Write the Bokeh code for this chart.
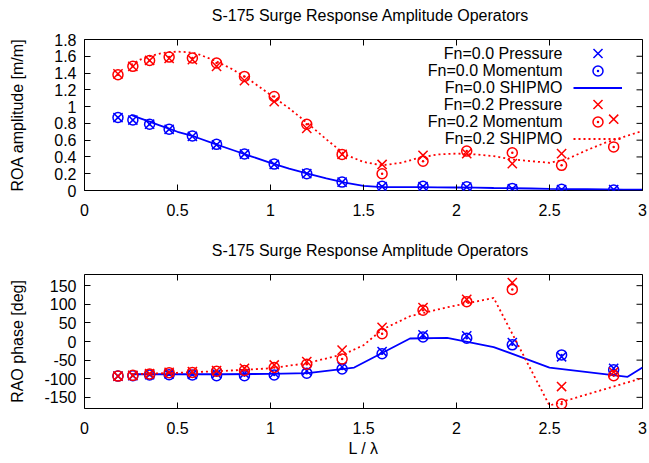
import math
from bokeh.plotting import figure
from bokeh.models import FixedTicker, Legend, LegendItem, Label, Range1d
from bokeh.layouts import column
from bokeh.embed import file_html
from bokeh.resources import INLINE

# ---------------- data ----------------
title_text = "S-175 Surge Response Amplitude Operators"
legend_labels = ["Fn=0.0 Pressure", "Fn=0.0 Momentum", "Fn=0.0 SHIPMO",
                 "Fn=0.2 Pressure", "Fn=0.2 Momentum", "Fn=0.2 SHIPMO"]

x_ticks = [0, 0.5, 1, 1.5, 2, 2.5, 3]
x_tick_labels = ["0", "0.5", "1", "1.5", "2", "2.5", "3"]
amp_ticks = [0, 0.2, 0.4, 0.6, 0.8, 1.0, 1.2, 1.4, 1.6, 1.8]
amp_tick_labels = ["0", "0.2", "0.4", "0.6", "0.8", "1", "1.2", "1.4", "1.6", "1.8"]
phase_ticks = [-150, -100, -50, 0, 50, 100, 150]
phase_tick_labels = ["-150", "-100", "-50", "0", "50", "100", "150"]

# measured points (L / lambda)
x_meas = [0.18, 0.26, 0.35, 0.455, 0.58, 0.71, 0.86, 1.02, 1.195, 1.385,
          1.60, 1.82, 2.055, 2.30, 2.565, 2.845]

amp_p0 = [0.87, 0.84, 0.79, 0.73, 0.645, 0.545, 0.435, 0.31, 0.20, 0.10,
          0.045, 0.045, 0.04, 0.02, 0.01, 0.01]
amp_m0 = [0.87, 0.84, 0.79, 0.73, 0.65, 0.55, 0.435, 0.315, 0.20, 0.10,
          0.05, 0.05, 0.045, 0.025, 0.015, 0.005]
amp_p2 = [1.39, 1.48, 1.55, 1.575, 1.56, 1.48, 1.31, 1.06, 0.74, 0.43,
          0.31, 0.42, 0.44, 0.32, 0.44, 0.85]
amp_m2 = [1.38, 1.48, 1.55, 1.59, 1.58, 1.52, 1.36, 1.12, 0.79, 0.43,
          0.20, 0.35, 0.47, 0.45, 0.30, 0.52]

ph_p0 = [-93, -92, -89, -87, -88, -86, -86, -85, -79, -68,
         -27, 18, 15, -3, -41, -72]
ph_m0 = [-93, -92, -90, -89, -90, -92, -92, -90, -85, -74,
         -33, 12, 9, -9, -36, -76]
ph_p2 = [-93, -91, -86, -83, -81, -78, -72, -63, -54, -23,
         38, 91, 113, 158, -121, -82]
ph_m2 = [-93, -91, -87, -84, -83, -80, -78, -70, -61, -47,
         21, 84, 107, 140, -168, -92]

# SHIPMO curves
shp_amp_x = [0.25, 0.3, 0.35, 0.4, 0.45, 0.5, 0.55, 0.6, 0.7, 0.8, 0.9, 1.0,
             1.1, 1.2, 1.3, 1.4, 1.5, 1.6, 1.7, 1.8, 1.9, 2.0, 2.1, 2.2, 2.3,
             2.4, 2.5, 2.6, 2.7, 2.8, 2.9, 3.0]
shp_amp0 = [0.90, 0.86, 0.82, 0.78, 0.74, 0.70, 0.67, 0.635, 0.555, 0.48,
            0.405, 0.33, 0.26, 0.20, 0.145, 0.095, 0.055, 0.04, 0.04, 0.04,
            0.038, 0.036, 0.034, 0.03, 0.027, 0.024, 0.02, 0.017, 0.015,
            0.013, 0.011, 0.01]
shp_amp2 = [1.50, 1.56, 1.60, 1.63, 1.65, 1.655, 1.65, 1.635, 1.55, 1.44,
            1.30, 1.14, 0.98, 0.80, 0.61, 0.43, 0.34, 0.30, 0.33, 0.39, 0.43,
            0.44, 0.43, 0.41, 0.37, 0.35, 0.33, 0.38, 0.48, 0.57, 0.64, 0.71]

shp_ph0_x = [0.25, 0.5, 0.75, 1.0, 1.2, 1.45, 1.75, 1.95, 2.2, 2.5, 2.92, 3.0]
shp_ph0 = [-88, -88, -88, -87, -85, -70, 8, 10, -15, -70, -95, -70]
shp_ph2_x = [0.25, 0.5, 0.75, 1.0, 1.2, 1.4, 1.5, 1.6, 1.75, 1.95, 2.2, 2.5, 3.0]
shp_ph2 = [-88, -84, -79, -72, -58, -33, -10, 32, 68, 92, 117, -172, -98]

# ---------------- style ----------------
FONT = "Liberation Sans"
BLUE = "#0000ff"
RED = "#ff0000"
FS = "16px"
X_SIZE = 13
O_SIZE = 10
W = 649


def title_fig(height, text_y):
    """A thin strip holding a gnuplot-style plot title."""
    t = figure(width=W, height=height, output_backend="svg", toolbar_location=None,
               x_range=Range1d(0, 1), y_range=Range1d(0, 1), min_border=0,
               min_border_left=0, min_border_right=0, min_border_top=0,
               min_border_bottom=0, background_fill_color="white",
               border_fill_color="white")
    t.axis.visible = False
    t.grid.visible = False
    t.outline_line_color = None
    # the column aligns this strip's frame with the plot frames below (left = 84 px)
    t.add_layout(Label(x=286, y=text_y, x_units="screen", y_units="screen",
                       text=title_text, text_align="center",
                       text_baseline="middle", text_font=FONT,
                       text_font_size=FS, text_color="black"))
    return t


def style_axis(ax, ticks, labels):
    ax.ticker = FixedTicker(ticks=ticks)
    ax.major_label_overrides = {t: l for t, l in zip(ticks, labels)}
    ax.major_tick_in = 6
    ax.major_tick_out = 0
    ax.minor_tick_line_color = None
    ax.major_tick_line_color = "black"
    ax.axis_line_color = None
    ax.major_label_text_font = FONT
    ax.major_label_text_color = "black"
    ax.major_label_text_font_size = FS
    ax.axis_label_text_font = FONT
    ax.axis_label_text_font_size = FS
    ax.axis_label_text_font_style = "normal"
    ax.axis_label_text_color = "black"


def make_fig(height, top, bottom, yr, yticks, ylabels, ylabel, ystandoff):
    p = figure(width=W, height=height, output_backend="svg",
               toolbar_location=None, x_range=Range1d(0, 3),
               y_range=Range1d(*yr), min_border_left=84, min_border_right=7,
               min_border_top=top, min_border_bottom=bottom,
               background_fill_color="white", border_fill_color="white")
    p.grid.visible = False
    p.outline_line_color = "black"
    p.outline_line_width = 1
    p.outline_line_alpha = 1
    style_axis(p.below[0], x_ticks, x_tick_labels)
    style_axis(p.left[0], yticks, ylabels)
    p.below[0].major_label_standoff = 13
    p.left[0].major_label_standoff = 8
    p.left[0].axis_label = ylabel
    p.left[0].axis_label_standoff = ystandoff
    # mirrored inward ticks on top and right edges (clipped to the frame)
    p.scatter(x_ticks, [yr[1]] * len(x_ticks), marker="dash", angle=math.pi / 2,
              size=12, line_color="black", line_width=1)
    p.scatter([3] * len(yticks), yticks, marker="dash", size=12,
              line_color="black", line_width=1)
    return p


# ---------------- top: amplitude ----------------
t1 = title_fig(30, 15)
p1 = make_fig(202, 9, 42, (0, 1.8), amp_ticks, amp_tick_labels,
              "ROA amplitude [m/m]", 25)

r_p0 = p1.scatter(x_meas, amp_p0, marker="x", size=X_SIZE, line_color=BLUE, line_width=1.5)
r_m0 = p1.scatter(x_meas, amp_m0, marker="circle_dot", size=O_SIZE, line_color=BLUE,
                  fill_color=None, line_width=1.5)
r_s0 = p1.line(shp_amp_x, shp_amp0, line_color=BLUE, line_width=1.8)
r_p2 = p1.scatter(x_meas, amp_p2, marker="x", size=X_SIZE, line_color=RED, line_width=1.5)
r_m2 = p1.scatter(x_meas, amp_m2, marker="circle_dot", size=O_SIZE, line_color=RED,
                  fill_color=None, line_width=1.5)
r_s2 = p1.line(shp_amp_x, shp_amp2, line_color=RED, line_width=1.8, line_dash="2 3")

# gnuplot-like key: text right-aligned, sample to its right
renderers = [r_p0, r_m0, r_s0, r_p2, r_m2, r_s2]
sample_h = [32, 25, 17, 32, 25, 17]
for i, (lab, r, h) in enumerate(zip(legend_labels, renderers, sample_h)):
    yc = 137 - 17 * i
    p1.add_layout(Legend(items=[LegendItem(label=" ", renderers=[r])],
                         location=(489, yc - h / 2), padding=0, margin=0,
                         spacing=0, glyph_width=49, glyph_height=h,
                         label_width=0, label_height=0, label_standoff=0,
                         label_text_font=FONT, label_text_font_size="10px",
                         background_fill_alpha=0, border_line_color=None))
    p1.add_layout(Label(x=478, y=yc, x_units="screen", y_units="screen",
                        text=lab, text_align="right", text_baseline="middle",
                        text_font=FONT, text_font_size=FS, text_color="black"))

# ---------------- bottom: phase ----------------
t2 = title_fig(36, 18)
p2 = make_fig(195, 6, 55, (-180, 180), phase_ticks, phase_tick_labels,
              "RAO phase [deg]", 15)
p2.below[0].axis_label = "L / λ"
p2.below[0].axis_label_standoff = 3

p2.scatter(x_meas, ph_p0, marker="x", size=X_SIZE, line_color=BLUE, line_width=1.5)
p2.scatter(x_meas, ph_m0, marker="circle_dot", size=O_SIZE, line_color=BLUE,
           fill_color=None, line_width=1.5)
p2.line(shp_ph0_x, shp_ph0, line_color=BLUE, line_width=1.8)
p2.scatter(x_meas, ph_p2, marker="x", size=X_SIZE, line_color=RED, line_width=1.5)
p2.scatter(x_meas, ph_m2, marker="circle_dot", size=O_SIZE, line_color=RED,
           fill_color=None, line_width=1.5)
p2.line(shp_ph2_x, shp_ph2, line_color=RED, line_width=1.8, line_dash="2 3")

layout = column(t1, p1, t2, p2, spacing=0)
open("out.html", "w").write(file_html(layout, INLINE))
